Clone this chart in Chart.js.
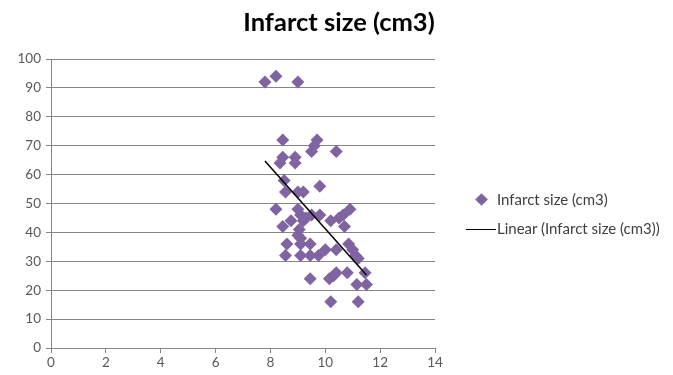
<!DOCTYPE html>
<html lang="en">
<head>
    <meta charset="UTF-8">
    <title>Infarct size</title>
    <script src="https://cdn.jsdelivr.net/npm/chart.js"></script>
    <style>
        body { margin: 0; background: #fff; font-family: Lato, sans-serif; }
        .wrap { position: relative; width: 673px; height: 375px; }
        .title { position: absolute; left: 0; top: 6px; width: 678px; text-align: center; font-size: 25.5px; font-weight: bold; color: #000; }
        .legend { position: absolute; left: 466px; top: 190px; font-size: 15px; color: #404040; }
        .legend-row { height: 29px; position: relative; }
        .diamond { position: absolute; left: 11px; top: 5px; width: 9px; height: 9px; background: #8064A2; transform: rotate(45deg); }
        .line { position: absolute; left: 0; top: 10px; width: 30px; border-top: 1.5px solid #000; }
        .legend-row span { position: absolute; left: 31px; top: 0; white-space: nowrap; }
    </style>
</head>
<body>
    <div class="wrap">
        <canvas id="chart" width="673" height="375"></canvas>
        <div class="title">Infarct size (cm3)</div>
        <div class="legend">
            <div class="legend-row"><div class="diamond"></div><span>Infarct size (cm3)</span></div>
            <div class="legend-row"><div class="line"></div><span>Linear (Infarct size (cm3))</span></div>
        </div>
    </div>

    <script>
        // values
        const xValues = [7.8, 8.2, 9.0, 8.45, 9.7, 9.6, 9.5, 10.4, 8.45, 8.35, 8.9, 8.9,
            8.5, 9.8, 8.55, 9.0, 9.2, 8.2, 9.0, 9.1, 9.5, 9.8, 10.9, 10.65, 10.5, 10.2,
            8.75, 9.2, 9.3, 8.45, 10.7, 9.05, 9.0, 9.1, 8.6, 9.1, 9.45, 10.85, 10.0, 10.4,
            11.0, 8.55, 9.1, 9.45, 9.75, 11.1, 11.2, 10.4, 10.8, 11.45, 9.45, 10.15, 10.3,
            11.15, 11.5, 10.2, 11.2];
        const yValues = [92, 94, 92, 72, 72, 70, 68, 68, 66, 64, 66, 64,
            58, 56, 54, 54, 54, 48, 48, 46, 46, 46, 48, 46, 45, 44,
            44, 44, 45, 42, 42, 41, 39, 38, 36, 36, 36, 36, 34, 34,
            34, 32, 32, 32, 32, 32, 31, 26, 26, 26, 24, 24, 25,
            22, 22, 16, 16];
        const trendX = [7.8, 11.5];
        const trendY = [64.7, 25.3];
        const xTicks = [0, 2, 4, 6, 8, 10, 12, 14];
        const yTicks = [0, 10, 20, 30, 40, 50, 60, 70, 80, 90, 100];

        const points = xValues.map((x, i) => ({ x: x, y: yValues[i] }));
        const trend = trendX.map((x, i) => ({ x: x, y: trendY[i] }));
        const tickFont = { family: 'Lato', size: 13.5 };

        new Chart(document.getElementById('chart'), {
            type: 'scatter',
            data: {
                datasets: [{
                    label: 'Infarct size (cm3)',
                    data: points,
                    pointStyle: 'rectRot',
                    pointRadius: 6.5,
                    pointBackgroundColor: '#8064A2',
                    pointBorderWidth: 0,
                    order: 2
                }, {
                    type: 'line',
                    label: 'Linear (Infarct size (cm3))',
                    data: trend,
                    borderColor: '#000',
                    borderWidth: 1.5,
                    pointRadius: 0,
                    fill: false,
                    order: 1
                }]
            },
            options: {
                responsive: false,
                animation: false,
                layout: { padding: { left: 0, right: 238, top: 59, bottom: 0 } },
                plugins: {
                    legend: { display: false },
                    tooltip: { enabled: false },
                    title: { display: false }
                },
                scales: {
                    x: {
                        type: 'linear',
                        min: 0,
                        max: 14,
                        afterBuildTicks: s => { s.ticks = xTicks.map(v => ({ value: v })); },
                        afterFit: s => { s.height = 27; },
                        ticks: { color: '#595959', font: tickFont, padding: 2, maxRotation: 0 },
                        grid: { drawOnChartArea: false, drawTicks: true, tickLength: 5, color: '#868686' },
                        border: { color: '#868686', width: 1 }
                    },
                    y: {
                        min: 0,
                        max: 100,
                        afterBuildTicks: s => { s.ticks = yTicks.map(v => ({ value: v })); },
                        afterFit: s => { s.width = 51; },
                        ticks: { color: '#595959', font: tickFont, padding: 5 },
                        grid: { color: '#868686', tickLength: 5 },
                        border: { color: '#868686', width: 1 }
                    }
                }
            }
        });
    </script>
</body>
</html>
